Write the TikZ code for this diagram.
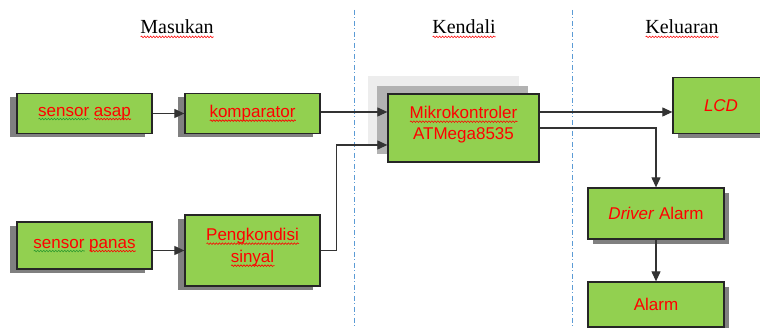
\documentclass[tikz,border=0pt]{standalone}
\usepackage{fontspec}
\setmainfont{Liberation Serif}
\setsansfont{Liberation Sans}
\usetikzlibrary{arrows.meta,shadows,calc,decorations.pathmorphing}
\definecolor{boxgreen}{HTML}{92D050}
\definecolor{divblue}{HTML}{5B9BD5}
\definecolor{wavegreen}{HTML}{2E9A2E}
\newsavebox{\wavbox}
\newcommand\wavline[2]{\sbox{\wavbox}{#2}\rlap{\tikz[baseline=0pt]\draw[#1,line width=0.6pt,decorate,decoration={snake,amplitude=0.8pt,segment length=3pt}] (0pt,-3pt) -- (\wd\wavbox,-3pt);}\usebox{\wavbox}}
\newcommand\rwave[1]{\wavline{red}{#1}}
\newcommand\gwave[1]{\wavline{wavegreen}{#1}}
\tikzset{
  blk/.style={draw=black!85, line width=1.3pt, fill=boxgreen, text=red,
    font=\sffamily\fontsize{17}{21}\selectfont, align=center, inner sep=0pt},
  shleft/.style={general shadow={fill=black!50, shadow xshift=-7pt, shadow yshift=-4pt}},
  shright/.style={general shadow={fill=black!50, shadow xshift=5pt, shadow yshift=-5pt}},
  shmk/.style={general shadow={fill=black!7, shadow xshift=-20pt, shadow yshift=18pt},
               general shadow={fill=black!30, shadow xshift=-11pt, shadow yshift=8pt}},
  conn/.style={draw=black!80, line width=1.1pt, -{Triangle[length=10pt,width=9pt]}},
  divider/.style={draw=divblue, line width=0.9pt, dash pattern=on 5pt off 2.5pt on 1pt off 2.5pt},
  title/.style={font=\fontsize{20}{24}\selectfont, text=black}
}
\begin{document}
\begin{tikzpicture}[x=1pt,y=-1pt]
\useasboundingbox (0,0) rectangle (760,328);
\clip (0,0) rectangle (760,328);
\fill[white] (0,0) rectangle (760,328);

% dividers
\coordinate (d1t) at (354,10); \coordinate (d1b) at (354,328);
\coordinate (d2t) at (572,10); \coordinate (d2b) at (572,328);
\draw[divider] (d1t) -- (d1b);
\draw[divider] (d2t) -- (d2b);

% titles
\node[title] (tin)  at (177,29) {\rwave{Masukan}};
\node[title] (tctl) at (464,29) {\rwave{Kendali}};
\node[title] (tout) at (682,29) {\rwave{Keluaran}};

% boxes
\node[blk, shleft, minimum width=135pt, minimum height=40pt] (sa) at (84.5,113.5) {\gwave{sensor} \rwave{asap}};
\node[blk, shleft, minimum width=135pt, minimum height=40pt] (komp) at (252.5,113.5) {\rwave{komparator}};
\node[blk, shleft, minimum width=135pt, minimum height=47pt] (sp) at (84.5,245.5) {\gwave{sensor} \rwave{panas}};
\node[blk, shleft, minimum width=135pt, minimum height=71pt] (pk) at (252.5,250.5) {\rwave{Pengkondisi}\\[1pt]\rwave{sinyal}\\[-11pt]};
\node[blk, shmk, minimum width=151pt, minimum height=68pt] (mk) at (463.5,128) {\rwave{Mikrokontroler}\\ATMega8535\\[-11pt]};
\node[blk, shright, minimum width=96pt, minimum height=56pt] (lcd) at (721,105.5) {\itshape LCD};
\node[blk, shright, minimum width=136pt, minimum height=51pt] (da) at (656,213.5) {\textit{Driver} Alarm};
\node[blk, shright, minimum width=136pt, minimum height=45pt] (al) at (656,304.5) {Alarm};

% connector end points
\coordinate (kout) at ($(komp.east)+(0,-1.5)$);
\coordinate (mkin1) at ($(mk.west)+(0,-16)$);
\coordinate (mkin2) at ($(mk.west)+(0,17)$);
\coordinate (mkout) at ($(mk.east)+(0,-16)$);

% connectors
\draw[conn] (sa.east) -- (sa.east -| komp.west);
\draw[conn] (kout) -- (mkin1);
\draw[conn] (pk.west -| sp.east) -- (pk.west);
\draw[conn] (pk.east) -- ++(16,0) |- (mkin2);
\draw[conn] (mkout) -- (mkout -| lcd.west);
\draw[conn] (mk.east) -| (da.north);
\draw[conn] (da.south) -- (al.north);
\end{tikzpicture}
\end{document}
